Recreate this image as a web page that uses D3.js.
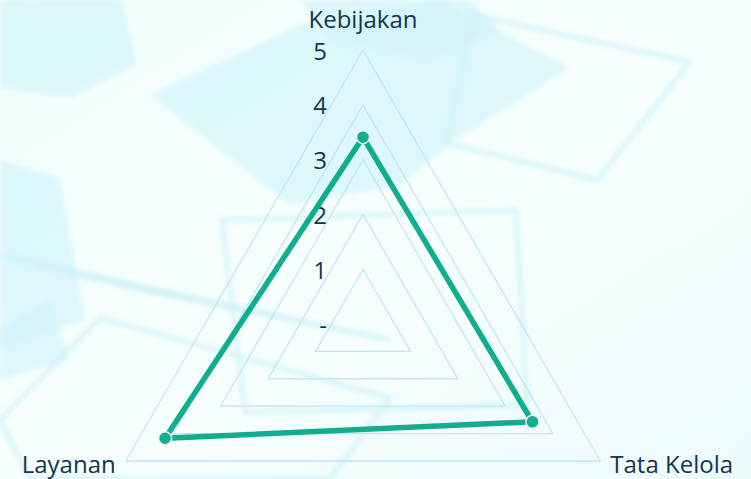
<!DOCTYPE html>
<html>
<head>
<meta charset="utf-8">
<script src="https://cdn.jsdelivr.net/npm/d3@7"></script>
<style>
  html, body { margin: 0; padding: 0; background: #ffffff; }
  svg { display: block; }
</style>
</head>
<body>
<div id="chart"></div>
<script>
const categories = ["Kebijakan", "Tata Kelola", "Layanan"];
const values = [3.41, 3.57, 4.17];
const tickValues = [0, 1, 2, 3, 4, 5];
const tickLabels = ["-", "1", "2", "3", "4", "5"];

const W = 751, H = 479;
const cx = 363, cy = 324, R = 274;

const svg = d3.select("#chart").append("svg")
  .attr("width", W).attr("height", H);

const defs = svg.append("defs");
const bg = defs.append("linearGradient").attr("id", "bgGrad")
  .attr("x1", "0").attr("y1", "0").attr("x2", "1").attr("y2", "1");
bg.append("stop").attr("offset", "0").attr("stop-color", "#f2fcfd");
bg.append("stop").attr("offset", "0.5").attr("stop-color", "#f7fefe");
bg.append("stop").attr("offset", "1").attr("stop-color", "#edfbfd");
const blur = defs.append("filter").attr("id", "soft")
  .attr("x", "-20%").attr("y", "-20%").attr("width", "140%").attr("height", "140%");
blur.append("feGaussianBlur").attr("stdDeviation", 2.5);

svg.append("rect").attr("width", W).attr("height", H).attr("fill", "url(#bgGrad)");

// decorative background shapes
const deco = svg.append("g").attr("filter", "url(#soft)");
const filled = [
  [[0,0],[122,0],[137,64],[70,98],[0,88]],
  [[150,95],[300,25],[440,0],[570,68],[455,140],[400,185],[290,205]],
  [[300,0],[470,0],[500,30],[430,60],[330,40]],
  [[0,160],[60,178],[85,320],[0,350]],
  [[0,330],[50,300],[70,360],[0,380]]
];
filled.forEach(p => deco.append("polygon")
  .attr("points", p.map(d => d.join(",")).join(" "))
  .attr("fill", "#cff5f9").attr("fill-opacity", 0.65));
const outlined = [
  [[473,15],[690,62],[597,180],[447,143]],
  [[222,220],[516,210],[527,405],[245,412]],
  [[100,318],[390,398],[330,479],[30,479],[0,420]],
  [[0,255],[140,290],[390,340]]
];
outlined.forEach(p => deco.append("polygon")
  .attr("points", p.map(d => d.join(",")).join(" "))
  .attr("fill", "none").attr("stroke", "#c9f0f5").attr("stroke-width", 4).attr("stroke-opacity", 0.8));

const r = d3.scaleLinear().domain([0, 5]).range([0, R]);
const angle = i => -Math.PI / 2 + i * 2 * Math.PI / categories.length;
const pt = (i, v) => [cx + r(v) * Math.cos(angle(i)), cy + r(v) * Math.sin(angle(i))];

// grid rings
const line = d3.line().curve(d3.curveLinearClosed);
tickValues.filter(t => t > 0).forEach(t => {
  svg.append("path")
    .attr("d", line(categories.map((c, i) => pt(i, t))))
    .attr("fill", "none").attr("stroke", "#c6e4f6").attr("stroke-width", 1.3);
});

// tick labels
svg.append("g").selectAll("text").data(tickValues).join("text")
  .attr("x", cx - 36).attr("y", d => cy - r(d))
  .attr("text-anchor", "end").attr("dominant-baseline", "central")
  .attr("font-family", "Open Sans").attr("font-size", 24).attr("font-weight", 500)
  .attr("fill", "#133650")
  .text((d, i) => tickLabels[i]);

// series
svg.append("path")
  .attr("d", line(values.map((v, i) => pt(i, v))))
  .attr("fill", "none").attr("stroke", "#10ad8f").attr("stroke-width", 5.5)
  .attr("stroke-linejoin", "miter");
svg.append("g").selectAll("circle").data(values).join("circle")
  .attr("cx", (v, i) => pt(i, v)[0]).attr("cy", (v, i) => pt(i, v)[1])
  .attr("r", 6.5).attr("fill", "#10ad8f").attr("stroke", "#eeeeee").attr("stroke-width", 1.5);

// category labels
const labelPos = [
  { dx: 0, dy: -22, anchor: "middle" },
  { dx: 10, dy: 12, anchor: "start" },
  { dx: -10, dy: 12, anchor: "end" }
];
svg.append("g").selectAll("text").data(categories).join("text")
  .attr("x", (c, i) => pt(i, 5)[0] + labelPos[i].dx)
  .attr("y", (c, i) => pt(i, 5)[1] + labelPos[i].dy)
  .attr("text-anchor", (c, i) => labelPos[i].anchor)
  .attr("font-family", "Open Sans").attr("font-size", 24).attr("font-weight", 500)
  .attr("fill", "#133650")
  .text(c => c);
</script>
</body>
</html>
